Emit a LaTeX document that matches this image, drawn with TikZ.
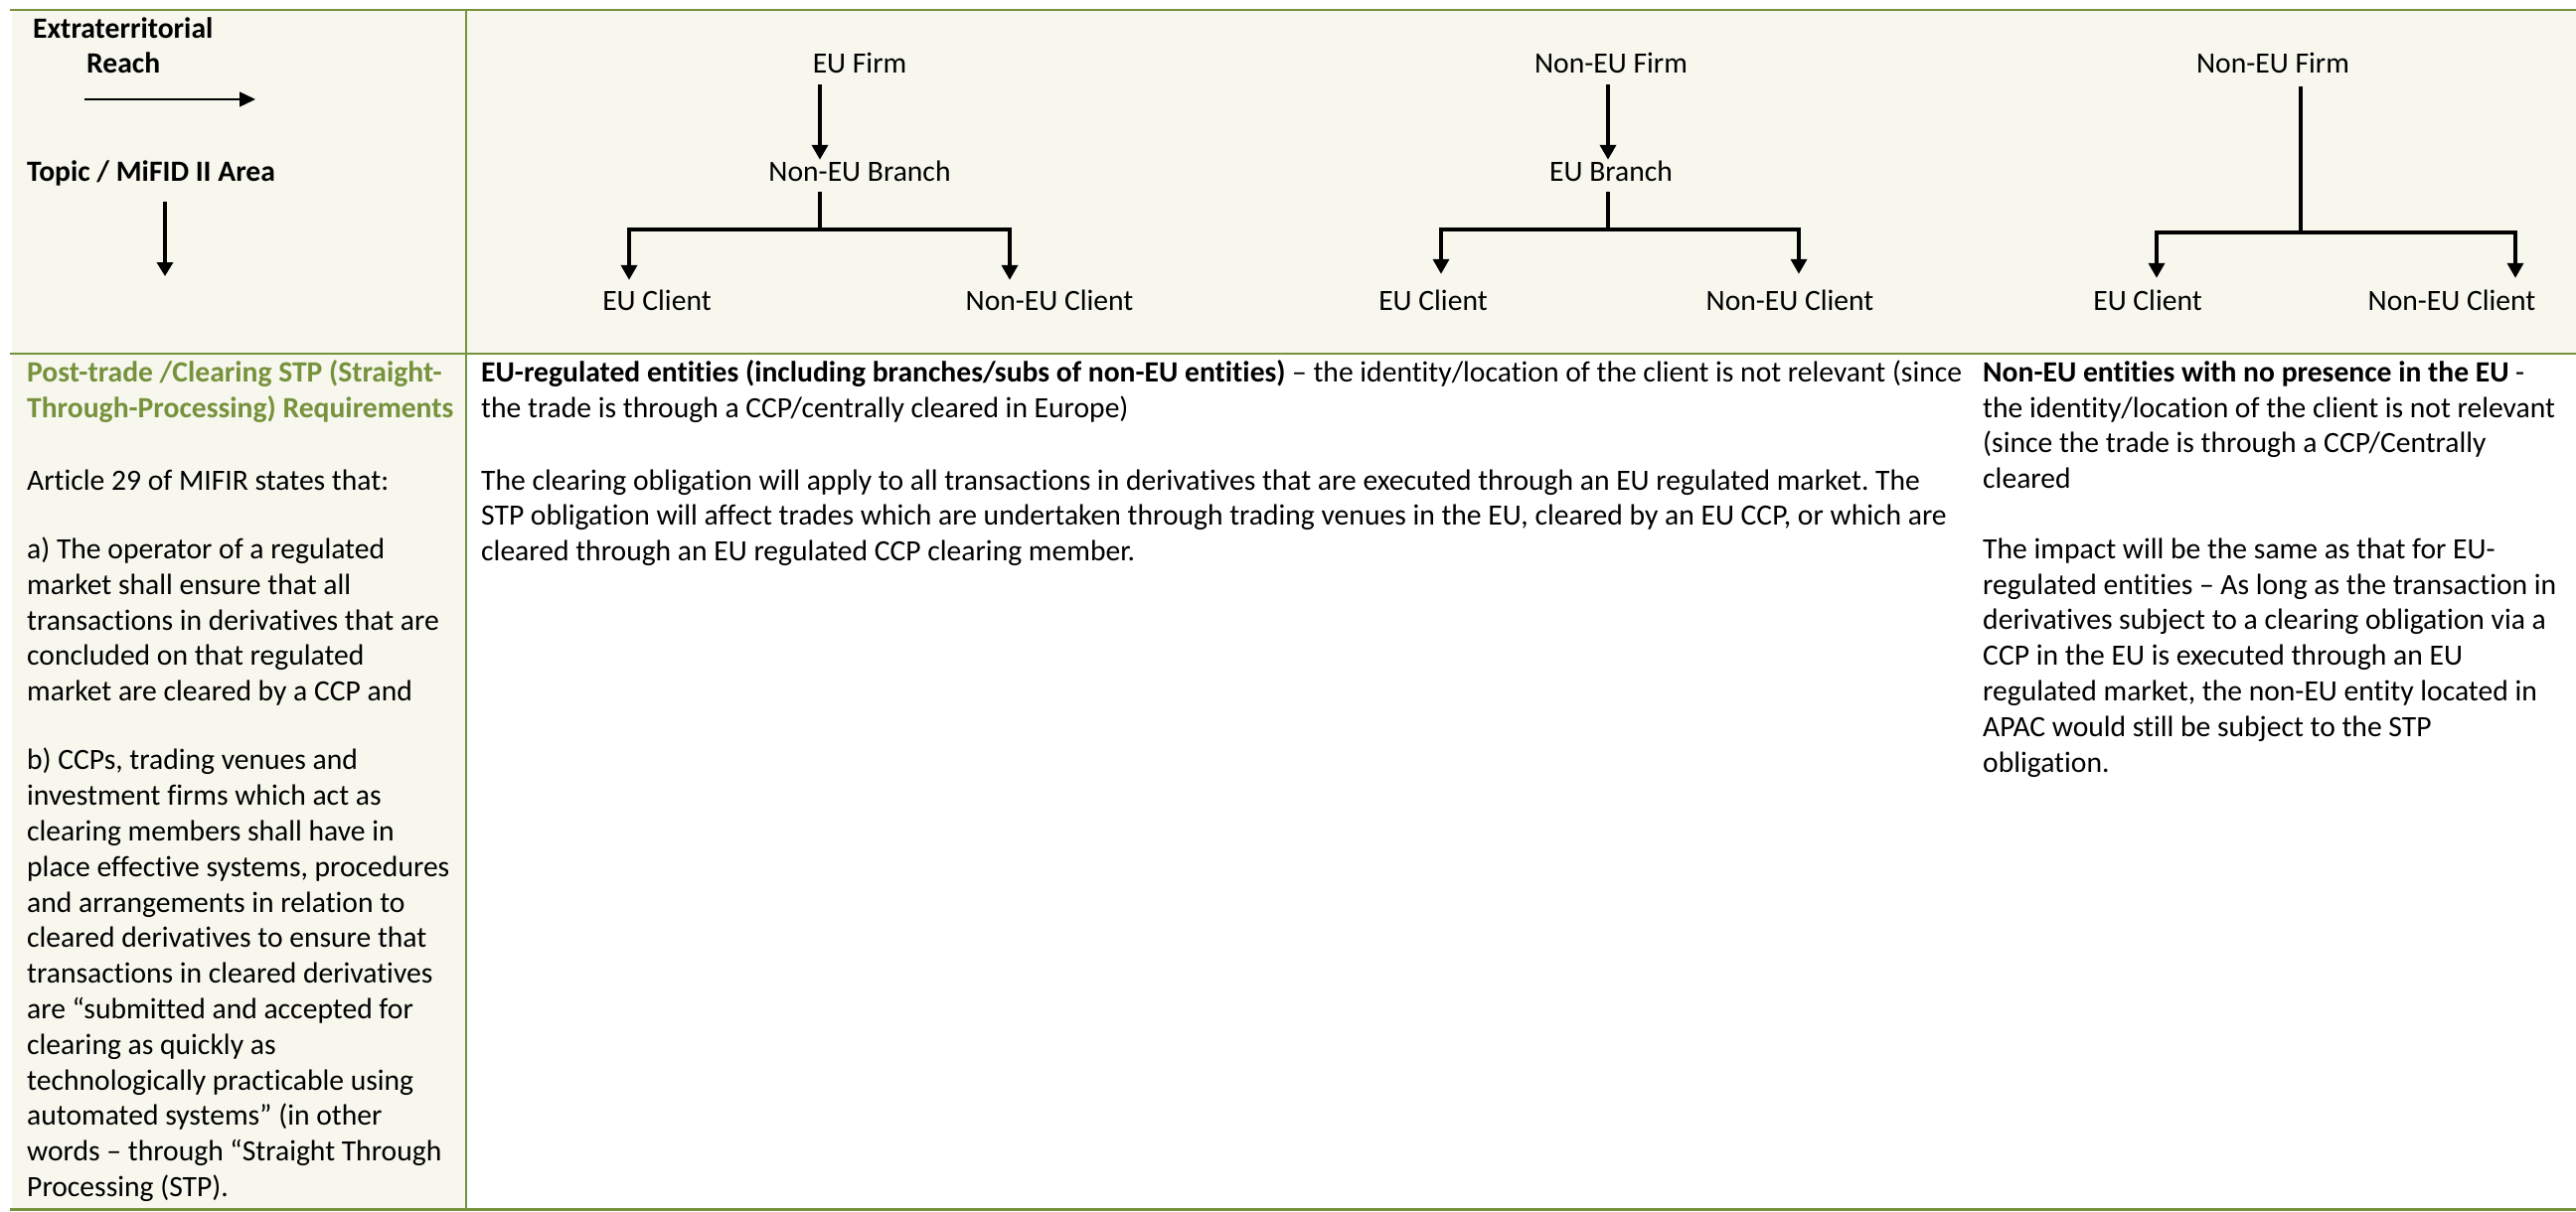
\documentclass[tikz,border=0pt]{standalone}
\usepackage{fontspec}
\setmainfont{Carlito}[Ligatures={NoCommon}]
\usetikzlibrary{arrows.meta}
\definecolor{gline}{HTML}{76923C}
\definecolor{cream}{HTML}{F7F7EE}
\newcommand\tblfont{\fontsize{29.6}{35.8}\selectfont}
\frenchspacing
\begin{document}
\begin{tikzpicture}[x=1pt,y=-1pt,
  rule/.style={draw=gline,line width=2.6pt},
  txt/.style={inner sep=0pt,font=\tblfont},
  para/.style={inner sep=0pt,font=\tblfont,align=left,anchor=north west},
  dnode/.style={inner sep=0pt,font=\tblfont,text height=21pt,text depth=6pt,anchor=base},
  tline/.style={line width=3.6pt},
  tbar/.style={line width=3.6pt,line cap=rect},
  tarrow/.style={line width=3.6pt,-{Triangle[width=16pt,length=15pt]}},
  thinarrow/.style={line width=1.4pt,-{Triangle[width=15pt,length=16pt]}},
  downarrow/.style={line width=4pt,-{Triangle[width=16pt,length=14pt]}}]
\useasboundingbox (0,0) rectangle (2592,1219);
\fill[white] (0,0) rectangle (2592,1219);
% backgrounds
\fill[cream] (12,10) rectangle (2592,356);
\fill[cream] (12,356) rectangle (469,1217.5);
% rules
\draw[rule] (10,10) -- (2592,10);
\draw[rule] (10,356) -- (2592,356);
\draw[rule] (10,1217.5) -- (2592,1217.5);
\draw[rule] (469,10) -- (469,1217.5);

% header, first column
\node[txt,anchor=base west] (ext) at (33,38) {\bfseries Extraterritorial};
\node[txt,anchor=base west] (reach) at (87,73) {\bfseries Reach};
\coordinate (ra0) at (85,100);
\coordinate (ra1) at (257,100);
\draw[thinarrow] (ra0) -- (ra1);
\node[txt,anchor=base west] (topic) at (27,182) {\bfseries Topic / MiFID II Area};
\coordinate (ta0) at (166,203);
\coordinate (ta1) at (166,278);
\draw[downarrow] (ta0) -- (ta1);

% diagram 1
\node[dnode] (f1) at (865,73) {EU Firm};
\node[dnode] (b1) at (865,182) {Non-EU Branch};
\node[dnode] (c1a) at (661,312) {EU Client};
\node[dnode] (c1b) at (1056,312) {Non-EU Client};
\coordinate (j1) at (825,231);
\coordinate (l1) at (633,231);
\coordinate (r1) at (1016,231);
\draw[tarrow] ([xshift=-40pt,yshift=-6pt]f1.south) -- ([xshift=-40pt]b1.north);
\draw[tline] ([xshift=-40pt,yshift=-5pt]b1.south) -- (j1);
\draw[tbar] (l1) -- (r1);
\draw[tarrow,shorten >=9pt] (l1) -- (l1 |- c1a.north);
\draw[tarrow,shorten >=9pt] (r1) -- (r1 |- c1b.north);

% diagram 2
\node[dnode] (f2) at (1621,73) {Non-EU Firm};
\node[dnode] (b2) at (1621,182) {EU Branch};
\node[dnode] (c2a) at (1442,312) {EU Client};
\node[dnode] (c2b) at (1801,312) {Non-EU Client};
\coordinate (j2) at (1618,231);
\coordinate (l2) at (1450,231);
\coordinate (r2) at (1810,231);
\draw[tarrow] ([xshift=-3pt,yshift=-6pt]f2.south) -- ([xshift=-3pt]b2.north);
\draw[tline] ([xshift=-3pt,yshift=-5pt]b2.south) -- (j2);
\draw[tbar] (l2) -- (r2);
\draw[tarrow,shorten >=15pt] (l2) -- (l2 |- c2a.north);
\draw[tarrow,shorten >=15pt] (r2) -- (r2 |- c2b.north);

% diagram 3
\node[dnode] (f3) at (2287,73) {Non-EU Firm};
\node[dnode] (c3a) at (2161,312) {EU Client};
\node[dnode] (c3b) at (2467,312) {Non-EU Client};
\coordinate (j3) at (2315,234);
\coordinate (l3) at (2170,234);
\coordinate (r3) at (2531,234);
\draw[tline] ([xshift=28pt,yshift=-8pt]f3.south) -- (j3);
\draw[tbar] (l3) -- (r3);
\draw[tarrow,shorten >=11pt] (l3) -- (l3 |- c3a.north);
\draw[tarrow,shorten >=11pt] (r3) -- (r3 |- c3b.north);

% body, first column
\node[para,text=gline,font=\tblfont\bfseries] (head) at (27,358.94)
  {\strut Post-trade /Clearing STP (Straight-\\Through-Processing) Requirements};
\node[para] (art) at (27,467.94)
  {\strut Article 29 of MIFIR states that:\\[33.4pt]
   a) The operator of a regulated\\
   market shall ensure that all\\
   transactions in derivatives that are\\
   concluded on that regulated\\
   market are cleared by a CCP and\\[33.4pt]
   b) CCPs, trading venues and\\
   investment firms which act as\\
   clearing members shall have in\\
   place effective systems, procedures\\
   and arrangements in relation to\\
   cleared derivatives to ensure that\\
   transactions in cleared derivatives\\
   are “submitted and accepted for\\
   clearing as quickly as\\
   technologically practicable using\\
   automated systems” (in other\\
   words – through “Straight Through\\
   Processing (STP).};

% body, merged middle column
\node[para] (mid) at (484,358.94)
  {\strut\textbf{EU-regulated entities (including branches/subs of non-EU entities)} – the identity/location of the client is not relevant (since\\
   the trade is through a CCP/centrally cleared in Europe)\\[37.2pt]
   The clearing obligation will apply to all transactions in derivatives that are executed through an EU regulated market. The\\
   STP obligation will affect trades which are undertaken through trading venues in the EU, cleared by an EU CCP, or which are\\
   cleared through an EU regulated CCP clearing member.};

% body, right column
\node[para] (right) at (1995,358.94)
  {\strut\textbf{Non-EU entities with no presence in the EU} -\\
   the identity/location of the client is not relevant\\
   (since the trade is through a CCP/Centrally\\
   cleared\\[34.8pt]
   The impact will be the same as that for EU-\\
   regulated entities – As long as the transaction in\\
   derivatives subject to a clearing obligation via a\\
   CCP in the EU is executed through an EU\\
   regulated market, the non-EU entity located in\\
   APAC would still be subject to the STP\\
   obligation.};
\end{tikzpicture}
\end{document}
